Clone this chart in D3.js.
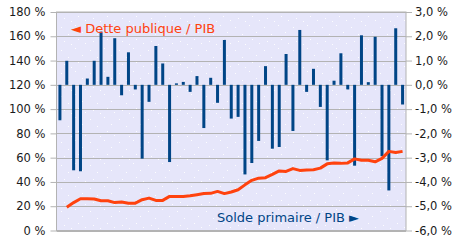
<!DOCTYPE html>
<html><head><meta charset="utf-8">
<script src="https://cdn.jsdelivr.net/npm/d3@7"></script>
<style>
html,body{margin:0;padding:0;background:#fff;}
svg{display:block;font-family:"DejaVu Sans",sans-serif;}
</style></head>
<body>
<svg id="c" width="463" height="243"></svg>
<script>
// Categories (51 years, unlabeled on chart)
const categories = d3.range(1, 52).map(String);
// Solde primaire / PIB (%), right axis
const soldePrimaire = [-1.46, 0.99, -3.52, -3.56, 0.26, 0.99, 2.19, 0.33, 1.92, -0.43,
  1.34, -0.19, -3.04, -0.70, 1.60, 0.88, -3.18, 0.06, 0.12, -0.29,
  0.36, -1.78, 0.29, -0.74, 1.85, -1.39, -1.32, -3.69, -3.22, -2.31,
  0.77, -2.63, -2.56, 1.27, -1.90, 2.26, -0.29, 0.66, -0.91, -3.11,
  0.17, 1.30, -0.19, -3.33, 2.04, 0.11, 1.98, -2.94, -4.35, 2.33, -0.81];
// Dette publique / PIB (%), left axis
const dettePublique = [null, 19.2, 23, 26.2, 26.2, 26, 24.5, 24.5, 23, 23.5,
  22.5, 22.5, 25.4, 26.7, 24.8, 24.8, 28.1, 28.1, 28.1, 28.6,
  29.5, 30.5, 30.6, 32.2, 30.4, 31.7, 33.6, 37.6, 41.3, 43.1,
  43.5, 46.2, 49.1, 48.7, 51, 49.5, 49.9, 50.1, 51.4, 54.9,
  55.6, 55.3, 55.7, 59, 57.8, 57.8, 56.6, 59.4, 65.2, 64.2, 65.2];
const leftTicks = [0, 20, 40, 60, 80, 100, 120, 140, 160, 180];
const rightTicks = [-6, -5, -4, -3, -2, -1, 0, 1, 2, 3];
const legendDette = "◄ Dette publique / PIB";
const legendSolde = "Solde primaire / PIB ►";

const svg = d3.select("#c");
const L = 56.5, R = 406, T = 12, B = 230.5;
const x = d3.scaleBand().domain(categories).range([L, R]);
const yL = d3.scaleLinear().domain([0, 180]).range([B, T]);
const yR = d3.scaleLinear().domain([-6, 3]).range([B, T]);

// dotted background pattern
const defs = svg.append("defs");
const pat = defs.append("pattern").attr("id", "dots").attr("patternUnits", "userSpaceOnUse")
  .attr("width", 29).attr("height", 23);
pat.append("rect").attr("width", 29).attr("height", 23).attr("fill", "#e6e6fa");
[[3,4],[17,2],[10,11],[24,9],[6,18],[20,16],[13,21],[27,20]].forEach(p =>
  pat.append("rect").attr("x", p[0]).attr("y", p[1]).attr("width", 1).attr("height", 1)
    .attr("fill", "#fff").attr("opacity", 0.9));

svg.append("rect").attr("x", L).attr("y", T).attr("width", R - L).attr("height", B - T)
  .attr("fill", "url(#dots)");

// gridlines
svg.append("g").selectAll("line").data(leftTicks).join("line")
  .attr("x1", L).attr("x2", R)
  .attr("y1", d => Math.round(yL(d)) + 0.5).attr("y2", d => Math.round(yL(d)) + 0.5)
  .attr("stroke", "#b3b3b3").attr("stroke-width", 1);

svg.append("rect").attr("x", L).attr("y", T).attr("width", R - L).attr("height", B - T)
  .attr("fill", "none").attr("stroke", "#b3b3b3").attr("stroke-width", 1);

// bars
const bw = 3;
svg.append("g").selectAll("rect").data(soldePrimaire).join("rect")
  .attr("x", (d, i) => x(categories[i]) + x.bandwidth() / 2 - bw / 2)
  .attr("width", bw)
  .attr("y", d => Math.min(yR(d), yR(0)))
  .attr("height", d => Math.abs(yR(d) - yR(0)))
  .attr("fill", "#004586");

// line
const line = d3.line()
  .defined(d => d != null)
  .x((d, i) => x(categories[i]) + x.bandwidth() / 2)
  .y(d => yL(d));
svg.append("path").datum(dettePublique).attr("d", line)
  .attr("fill", "none").attr("stroke", "#ff420e").attr("stroke-width", 3)
  .attr("stroke-linejoin", "round");

// axes
const axL = svg.append("g").attr("transform", `translate(${L},0)`)
  .call(d3.axisLeft(yL).tickValues(leftTicks).tickFormat(d => d + " %").tickSize(6).tickPadding(5));
const axR = svg.append("g").attr("transform", `translate(${R},0)`)
  .call(d3.axisRight(yR).tickValues(rightTicks)
    .tickFormat(d => d.toFixed(1).replace(".", ",") + " %").tickSize(6).tickPadding(3));
[axL, axR].forEach(a => {
  a.select(".domain").remove();
  a.selectAll("line").attr("stroke", "#b3b3b3");
  a.selectAll("text").attr("fill", "#1a1a1a").style("font-size", "11.5px")
    .style("font-family", "'DejaVu Sans', sans-serif");
});

// legends
svg.append("text").attr("x", 71).attr("y", 32.5).text(legendDette)
  .attr("fill", "#ff420e").style("font-size", "13px");
svg.append("text").attr("x", 217).attr("y", 221.5).text(legendSolde)
  .attr("fill", "#004586").style("font-size", "13px");
</script>
</body></html>
